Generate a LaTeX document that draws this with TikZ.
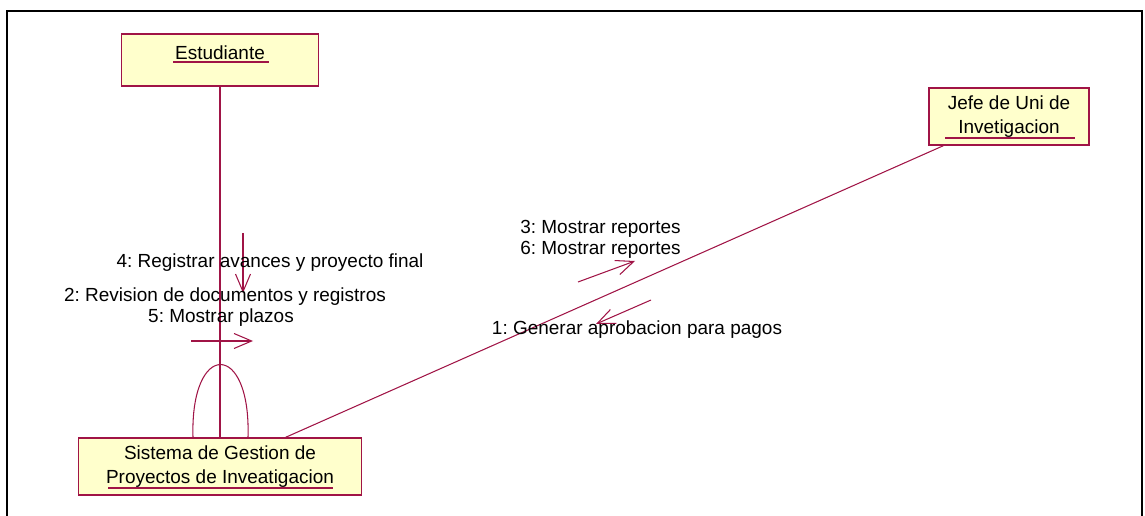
\documentclass[tikz,border=0pt]{standalone}
\usepackage{fontspec}
\setmainfont{Liberation Sans}
\frenchspacing
\usepackage{tikz}
\usetikzlibrary{arrows.meta,calc}
\definecolor{umlred}{RGB}{160,20,70}
\definecolor{umlfill}{RGB}{255,255,204}
\tikzset{
  obj/.style={draw=umlred,fill=umlfill,line width=0.8pt,rectangle,inner sep=0pt,align=center},
  link/.style={draw=umlred,line width=0.6pt},
  msg/.style={draw=umlred,line width=0.6pt,-{Straight Barb[length=10pt,width=8.5pt]}},
  uline/.style={draw=umlred,line width=0.6pt},
  txt/.style={inner sep=0pt,font=\fontsize{10.8}{12}\selectfont}
}
\begin{document}
\begin{tikzpicture}[x=0.02cm,y=-0.02cm]
\useasboundingbox (0,0) rectangle (1145,516);
%-------->frame<--------------
\draw[line width=1.1pt] (7,516) -- (7,11) -- (1142,11) -- (1142,516);
%-------->objects<--------------
\node[obj,minimum width=197*0.02cm,minimum height=52*0.02cm,font=\fontsize{10.8}{12}\selectfont] (est) at (220,60) {\raisebox{8pt}{Estudiante}}; % estudiante
\node[obj,minimum width=160*0.02cm,minimum height=57*0.02cm,font=\fontsize{10.8}{13.5}\selectfont] (jefe) at (1009,116.5) {Jefe de Uni de\\Invetigacion}; % jefe
\node[obj,minimum width=283*0.02cm,minimum height=57*0.02cm,font=\fontsize{10.8}{13.5}\selectfont] (sis) at (220,466.5) {Sistema de Gestion de\\Proyectos de Inveatigacion}; % sistema
%-------->underlines<--------------
\draw[uline] ($(est.center)+(-47,2)$) -- ($(est.center)+(49,2)$);
\draw[uline] ($(jefe.center)+(-64,21.5)$) -- ($(jefe.center)+(66,21.5)$);
\draw[uline] ($(sis.center)+(-112,21.5)$) -- ($(sis.center)+(113,21.5)$);
%-------->links<--------------
\draw[link] (est) -- (sis);
\draw[link] (sis) -- (jefe);
\coordinate (loopa) at ($(sis.north)+(-27,0)$);
\coordinate (loopb) at ($(sis.north)+(28,0)$);
\draw[link] (loopa) .. controls ($(loopa)+(-3,-97)$) and ($(loopb)+(3,-97)$) .. (loopb);
%-------->messages<--------------
\coordinate (m4a) at (243,233); \coordinate (m4b) at (243,293);
\coordinate (m2a) at (191,341); \coordinate (m2b) at (253,341);
\coordinate (m3a) at (578,282); \coordinate (m3b) at (635,261);
\coordinate (m1a) at (651,300); \coordinate (m1b) at (596,324);
\draw[msg] (m4a) -- (m4b);
\draw[msg] (m2a) -- (m2b);
\draw[msg] (m3a) -- (m3b);
\draw[msg] (m1a) -- (m1b);
%-------->labels<--------------
\node[txt] (lbl4) at (270,263) {4: Registrar avances y proyecto final};
\node[txt] (lbl2) at (225,297) {2: Revision de documentos y registros};
\node[txt] (lbl5) at (221,318) {5: Mostrar plazos};
\node[txt,anchor=west] (lbl3) at (520,229) {3: Mostrar reportes};
\node[txt,anchor=west] (lbl6) at (520,250) {6: Mostrar reportes};
\node[txt] (lbl1) at (637,330) {1: Generar aprobacion para pagos};
\end{tikzpicture}
\end{document}
